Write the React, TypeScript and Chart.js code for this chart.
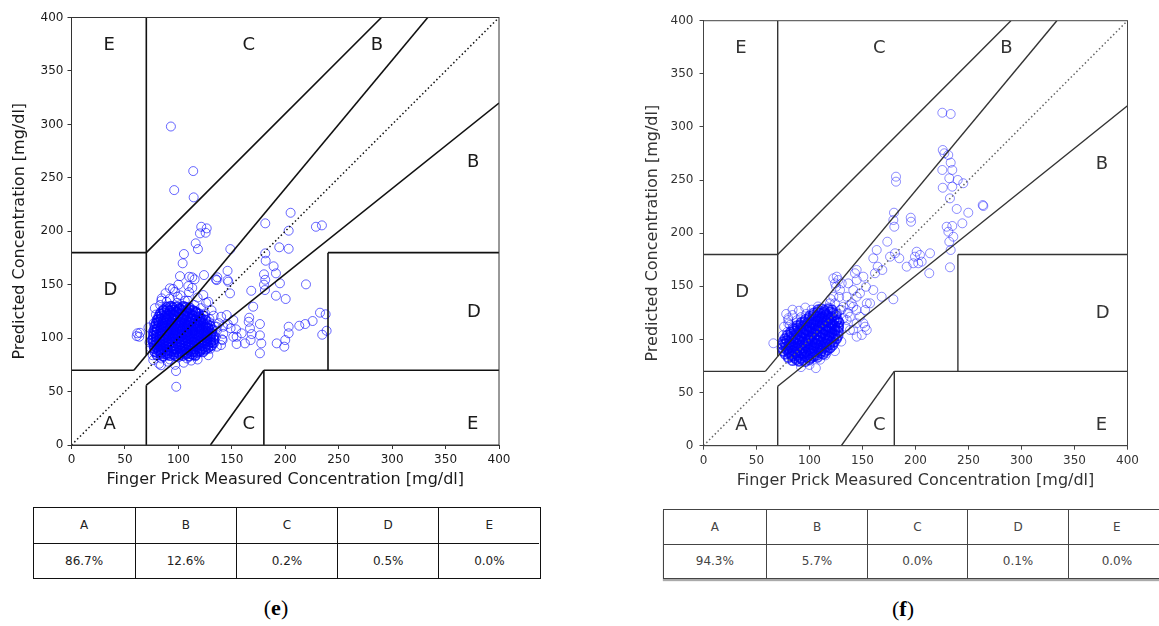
import React, { useEffect, useRef } from 'react';
import { Chart, registerables } from 'chart.js';

Chart.register(...registerables);

// ---------- data ----------
const tickValues = [0, 50, 100, 150, 200, 250, 300, 350, 400];
const zoneNames = ['A', 'B', 'C', 'D', 'E'];
const zonePercentE = ['86.7%', '12.6%', '0.2%', '0.5%', '0.0%'];
const zonePercentF = ['94.3%', '5.7%', '0.0%', '0.1%', '0.0%'];
const xTitle = 'Finger Prick Measured Concentration [mg/dl]';
const yTitle = 'Predicted Concentration [mg/dl]';

// Clarke error grid boundaries [x1, y1, x2, y2] in mg/dl
const gridSegments: number[][] = [
  [0, 70, 58.33, 70],
  [58.33, 70, 333.33, 400],
  [70, 84, 70, 400],
  [0, 180, 70, 180],
  [70, 180, 290, 400],
  [70, 0, 70, 56],
  [70, 56, 400, 320],
  [180, 0, 180, 70],
  [180, 70, 400, 70],
  [240, 70, 240, 180],
  [240, 180, 400, 180],
  [130, 0, 180, 70],
];
const identityLine: number[][] = [[0, 0], [400, 400]];
const zoneLabels: [string, number, number][] = [
  ['A', 30, 15], ['B', 370, 260], ['B', 280, 370], ['C', 160, 370], ['C', 160, 15],
  ['D', 30, 140], ['D', 370, 120], ['E', 30, 370], ['E', 370, 15],
];

// panel (e) readings
const eCluster: number[][] = [
  [88, 142], [95, 146], [102, 140], [110, 143], [118, 138], [92, 137], [100, 150], [84, 135], [106, 135], [113, 147],
  [83, 131], [89, 134], [94, 130], [99, 133], [104, 129], [109, 135], [115, 131], [121, 128], [126, 133], [86, 127], [131, 126],
  [79, 122], [84, 125], [88, 121], [92, 126], [96, 122], [100, 127], [104, 121], [108, 125], [112, 120], [116, 124], [120, 121], [125, 123], [129, 118], [81, 118], [133, 121],
  [77, 114], [81, 116], [85, 112], [89, 117], [93, 113], [97, 118], [101, 114], [105, 117], [109, 112], [113, 116], [117, 113], [121, 117], [125, 112], [129, 115], [134, 111], [138, 114],
  [76, 106], [80, 109], [84, 104], [88, 110], [92, 105], [96, 109], [100, 104], [104, 110], [108, 105], [112, 109], [116, 104], [120, 108], [124, 105], [128, 110], [132, 104], [136, 107],
  [75, 98], [79, 101], [83, 97], [87, 102], [91, 96], [95, 100], [99, 97], [103, 102], [107, 96], [111, 101], [115, 97], [119, 102], [123, 96], [127, 100], [131, 97], [135, 101],
  [74, 91], [78, 94], [82, 89], [86, 93], [90, 88], [94, 92], [98, 89], [102, 94], [106, 90], [110, 93], [114, 88], [118, 92], [122, 89], [126, 94], [130, 90],
  [76, 84], [80, 86], [84, 81], [88, 85], [92, 80], [96, 84], [100, 82], [104, 86], [108, 81], [112, 85], [116, 83], [120, 87],
  [82, 76], [90, 78], [97, 75], [105, 77], [112, 79],
  [92.1, 146.6], [96.8, 143.4], [99.3, 138.7], [84.4, 137.2], [78, 128], [72, 110], [73, 96], [140, 120], [142, 104], [136, 92], [128, 84], [118, 80],
];
const eCore: number[][] = [
  [80, 84], [83.5, 85], [86, 83], [89.5, 84.5], [92, 83.5], [95.5, 85], [98, 83], [101.5, 84.5], [104, 83.5], [107.5, 85], [110, 83], [113.5, 84.5], [116, 84],
  [78, 87], [81.5, 88], [84, 86.5], [87.5, 87.5], [90, 86], [93.5, 88], [96, 87], [99.5, 86.5], [102, 88], [105.5, 87], [108, 86], [111.5, 88], [114, 87], [117.5, 86.5], [120, 88], [123, 87],
  [77.5, 90], [80, 91], [83.5, 89.5], [86, 90.5], [89.5, 89], [92, 91], [95.5, 90], [98, 89.5], [101.5, 91], [104, 90], [107.5, 89], [110, 91], [113.5, 90], [116, 89.5], [119.5, 91], [122, 90], [125.5, 89.5], [128, 91],
  [77, 93], [79.5, 94], [83, 92.5], [85.5, 93.5], [89, 92], [91.5, 94], [95, 93], [97.5, 92.5], [101, 94], [103.5, 93], [107, 92], [109.5, 94], [113, 93], [115.5, 92.5], [119, 94], [121.5, 93], [125, 92], [127.5, 94], [131, 93],
  [76.5, 96], [79, 97], [82.5, 95.5], [85, 96.5], [88.5, 95], [91, 97], [94.5, 96], [97, 95.5], [100.5, 97], [103, 96], [106.5, 95], [109, 97], [112.5, 96], [115, 95.5], [118.5, 97], [121, 96], [124.5, 95], [127, 97], [130.5, 96], [133, 95.5],
  [76, 99], [79.5, 100], [82, 98.5], [85.5, 99.5], [88, 98], [91.5, 100], [94, 99], [97.5, 98.5], [100, 100], [103.5, 99], [106, 98], [109.5, 100], [112, 99], [115.5, 98.5], [118, 100], [121.5, 99], [124, 98], [127.5, 100], [130, 99], [133.5, 98.5],
  [76.5, 102], [79, 103], [82.5, 101.5], [85, 102.5], [88.5, 101], [91, 103], [94.5, 102], [97, 101.5], [100.5, 103], [103, 102], [106.5, 101], [109, 103], [112.5, 102], [115, 101.5], [118.5, 103], [121, 102], [124.5, 101], [127, 103], [130.5, 102], [133, 101.5],
  [77, 105], [79.5, 106], [83, 104.5], [85.5, 105.5], [89, 104], [91.5, 106], [95, 105], [97.5, 104.5], [101, 106], [103.5, 105], [107, 104], [109.5, 106], [113, 105], [115.5, 104.5], [119, 106], [121.5, 105], [125, 104], [127.5, 106], [131, 105],
  [77.5, 108], [80, 109], [83.5, 107.5], [86, 108.5], [89.5, 107], [92, 109], [95.5, 108], [98, 107.5], [101.5, 109], [104, 108], [107.5, 107], [110, 109], [113.5, 108], [116, 107.5], [119.5, 109], [122, 108], [125.5, 107], [128, 109], [131.5, 108],
  [78, 111], [81.5, 112], [84, 110.5], [87.5, 111.5], [90, 110], [93.5, 112], [96, 111], [99.5, 110.5], [102, 112], [105.5, 111], [108, 110], [111.5, 112], [114, 111], [117.5, 110.5], [120, 112], [123.5, 111], [126, 110], [129.5, 112],
  [79, 114], [81.5, 115], [85, 113.5], [87.5, 114.5], [91, 113], [93.5, 115], [97, 114], [99.5, 113.5], [103, 115], [105.5, 114], [109, 113], [111.5, 115], [115, 114], [117.5, 113.5], [121, 115], [123.5, 114], [127, 113],
  [80, 117], [83.5, 118], [86, 116.5], [89.5, 117.5], [92, 116], [95.5, 118], [98, 117], [101.5, 116.5], [104, 118], [107.5, 117], [110, 116], [113.5, 118], [116, 117], [119.5, 116.5], [122, 118], [125.5, 117],
  [81.5, 120], [84, 121], [87.5, 119.5], [90, 120.5], [93.5, 119], [96, 121], [99.5, 120], [102, 119.5], [105.5, 121], [108, 120], [111.5, 119], [114, 121], [117.5, 120], [120, 119.5], [123.5, 121],
  [83, 123], [86.5, 124], [89, 122.5], [92.5, 123.5], [95, 122], [98.5, 124], [101, 123], [104.5, 122.5], [107, 124], [110.5, 123], [113, 122], [116.5, 124], [119, 123],
  [86, 126], [89.5, 127], [92, 125.5], [95.5, 126.5], [98, 125], [101.5, 127], [104, 126], [107.5, 125.5], [110, 127], [113.5, 126], [116, 125],
  [89, 129], [92.5, 130], [95, 128.5], [98.5, 129.5], [101, 128], [104.5, 130], [107, 129], [110.5, 128.5],
];
const eOutliers: number[][] = [
  [93, 298], [113.9, 256.3], [96.1, 238.5], [114.3, 231.7],
  [121.4, 204.2], [126.5, 202.7], [125.5, 198.6], [120.2, 198], [116.2, 188.7], [118.3, 183.3], [105.2, 178.7], [104, 170], [148.6, 183.3],
  [101.5, 158], [110.2, 157.4], [113, 156.9], [115.2, 155], [109.3, 148.7], [124, 159], [135.2, 155], [136.4, 156.9],
  [146, 163], [146, 154.3], [148.3, 141.9], [168.2, 144.3], [170, 129.4], [181.3, 207.4], [205, 217.3], [203.2, 200.5],
  [194.4, 185], [203.2, 183.6], [181.3, 179.3], [181.7, 172.4], [189.1, 167.2], [180.1, 159.7], [181.3, 154.6], [180.1, 150], [181, 145],
  [191.3, 160.6], [195, 151.3], [191.3, 139.7], [200.4, 136.6], [219.4, 150.3], [228.7, 204.2], [234.3, 205.5],
  [232.5, 123.8], [237.8, 122.3], [238.7, 106.9], [234.6, 103.2], [225.6, 116], [218.7, 113.2], [213.1, 111.6], [203.2, 110.7], [203.2, 104.5],
  [200, 98.2], [199.1, 92], [192, 95.1], [176.3, 113.2], [176.3, 102.6], [177.6, 95.1], [176.3, 85.8], [166.3, 119.1], [165.8, 115.3],
  [167, 109.2], [168.6, 103.8], [167.6, 98.2], [159.2, 104.5], [153.9, 108.2], [154.5, 101.3], [154.5, 94.5], [162.3, 95.1], [146.1, 113.2],
  [148.9, 109.2], [151.4, 101.3], [142, 110.7], [141.4, 98.2], [139.9, 93.5],
  [61.6, 104.5], [64.1, 105], [61, 101.9], [63.4, 101.3], [97.8, 69.2], [98, 54.5], [83.7, 74.6], [76.5, 79.5],
  [135.8, 154.3], [146.7, 152.8], [123.3, 140.3], [128, 134], [145.2, 121.6], [151.4, 116.9], [135.8, 110.7], [140.8, 98.9], [129.6, 101.3],
];

// panel (f) readings
const fCluster: number[][] = [
  [80, 120], [84, 123], [88, 118], [92, 121], [97, 124], [101, 119], [106, 122], [110, 125], [113, 119],
  [76, 112], [80, 115], [84, 111], [88, 116], [92, 112], [96, 115], [100, 110], [104, 116], [108, 111], [112, 114], [116, 110], [120, 115], [124, 112],
  [75, 104], [79, 107], [83, 103], [87, 108], [91, 104], [95, 107], [99, 102], [103, 106], [107, 103], [111, 108], [115, 104], [119, 107], [123, 103], [127, 108],
  [74, 96], [78, 99], [82, 95], [86, 100], [90, 94], [94, 98], [98, 95], [102, 100], [106, 96], [110, 99], [114, 95], [118, 100], [122, 97], [126, 101], [130, 98],
  [76, 88], [80, 91], [84, 87], [88, 92], [92, 86], [96, 90], [100, 87], [104, 92], [108, 88], [112, 91], [116, 87], [120, 92], [124, 89],
  [80, 82], [85, 84], [90, 79], [95, 83], [100, 80], [105, 84], [110, 81], [115, 85],
  [92, 74], [100, 76], [106, 73],
  [128, 116], [132, 120], [126, 124], [130, 128], [122, 128], [118, 130], [124, 134], [134, 112], [136, 125], [138, 132], [120, 138], [128, 140],
  [65.9, 96.4], [80, 118.3], [81.6, 113.7], [78, 124], [84, 128], [90, 127], [96, 130], [102, 128], [108, 131], [114, 126],
];
const fCore: number[][] = [
  [84, 80], [87.5, 81], [90, 79.5], [93.5, 80.5], [96, 79], [99.5, 81],
  [80, 83], [83.5, 84], [86, 82.5], [89.5, 83.5], [92, 82], [95.5, 84], [98, 83], [101.5, 82.5], [104, 84], [107.5, 83],
  [77, 86], [80.5, 87], [83, 85.5], [86.5, 86.5], [89, 85], [92.5, 87], [95, 86], [98.5, 85.5], [101, 87], [104.5, 86], [107, 85], [110.5, 87], [113, 86],
  [75, 89], [78.5, 90], [81, 88.5], [84.5, 89.5], [87, 88], [90.5, 90], [93, 89], [96.5, 88.5], [99, 90], [102.5, 89], [105, 88], [108.5, 90], [111, 89], [114.5, 88.5], [117, 90],
  [74, 92], [77.5, 93], [80, 91.5], [83.5, 92.5], [86, 91], [89.5, 93], [92, 92], [95.5, 91.5], [98, 93], [101.5, 92], [104, 91], [107.5, 93], [110, 92], [113.5, 91.5], [116, 93], [119.5, 92],
  [74.5, 95], [77, 96], [80.5, 94.5], [83, 95.5], [86.5, 94], [89, 96], [92.5, 95], [95, 94.5], [98.5, 96], [101, 95], [104.5, 94], [107, 96], [110.5, 95], [113, 94.5], [116.5, 96], [119, 95], [122, 94.5],
  [75, 98], [78.5, 99], [81, 97.5], [84.5, 98.5], [87, 97], [90.5, 99], [93, 98], [96.5, 97.5], [99, 99], [102.5, 98], [105, 97], [108.5, 99], [111, 98], [114.5, 97.5], [117, 99], [120.5, 98], [123.5, 97.5],
  [77, 101], [80.5, 102], [83, 100.5], [86.5, 101.5], [89, 100], [92.5, 102], [95, 101], [98.5, 100.5], [101, 102], [104.5, 101], [107, 100], [110.5, 102], [113, 101], [116.5, 100.5], [119, 102], [122.5, 101], [125.5, 100.5],
  [79, 104], [82.5, 105], [85, 103.5], [88.5, 104.5], [91, 103], [94.5, 105], [97, 104], [100.5, 103.5], [103, 105], [106.5, 104], [109, 103], [112.5, 105], [115, 104], [118.5, 103.5], [121, 105], [124.5, 104], [127, 103.5],
  [82, 107], [85.5, 108], [88, 106.5], [91.5, 107.5], [94, 106], [97.5, 108], [100, 107], [103.5, 106.5], [106, 108], [109.5, 107], [112, 106], [115.5, 108], [118, 107], [121.5, 106.5], [124, 108], [127.5, 107],
  [85, 110], [88.5, 111], [91, 109.5], [94.5, 110.5], [97, 109], [100.5, 111], [103, 110], [106.5, 109.5], [109, 111], [112.5, 110], [115, 109], [118.5, 111], [121, 110], [124.5, 109.5], [127.5, 111],
  [88, 113], [91.5, 114], [94, 112.5], [97.5, 113.5], [100, 112], [103.5, 114], [106, 113], [109.5, 112.5], [112, 114], [115.5, 113], [118, 112], [121.5, 114], [124, 113], [127.5, 112.5],
  [92, 116], [95.5, 117], [98, 115.5], [101.5, 116.5], [104, 115], [107.5, 117], [110, 116], [113.5, 115.5], [116, 117], [119.5, 116], [122, 115], [125.5, 117], [128, 116],
  [96, 119], [99.5, 120], [102, 118.5], [105.5, 119.5], [108, 118], [111.5, 120], [114, 119], [117.5, 118.5], [120, 120], [123.5, 119], [126.5, 118.5],
  [100, 122], [103.5, 123], [106, 121.5], [109.5, 122.5], [112, 121], [115.5, 123], [118, 122], [121.5, 121.5], [125, 123],
  [104, 125], [107.5, 126], [110, 124.5], [113.5, 125.5], [116, 124], [119.5, 126], [122.5, 125],
  [108, 128], [111.5, 129], [114, 127.5], [117.5, 128.5], [121, 128],
];
const fOutliers: number[][] = [
  [225.3, 313.4], [233.2, 312.2],
  [225.7, 278.3], [227.2, 275.2], [230.9, 273.6], [233.2, 266.4], [225.3, 259.5], [234.7, 259.5], [231.9, 251.7], [239.8, 250.1],
  [225.7, 242.8], [234.7, 243.8], [245.1, 247], [232.5, 232.8],
  [181.6, 253.2], [181.6, 248.5], [179.7, 219.3], [179.1, 212.4], [195.5, 214.6], [195.8, 210.8], [180, 206.1],
  [229.4, 206.1], [234.7, 206.8], [231, 201.4], [235.7, 196.7], [244.2, 209.3], [249.8, 219.3], [238.9, 222.8], [264, 225.6], [263.4, 226.5],
  [231.9, 192], [233.2, 184.2], [232.5, 167.9],
  [173.4, 192], [180.7, 181.1], [176, 177.9], [184.7, 176.4], [163.4, 184.2], [164.3, 168.5], [168.7, 165.4], [160.2, 176.4],
  [201.1, 182.6], [204.2, 179.5], [202.6, 171.7], [205.8, 173.2], [213.7, 181.1], [213, 162.3], [191.7, 168.5], [197.9, 171.7], [199.5, 177.9],
  [161.8, 162.3], [150.8, 159.1], [144.5, 155.9], [153.3, 149.6], [160.2, 146.5], [168.1, 140.2], [179.1, 137.8], [154, 134], [144.5, 140.2],
  [141.3, 146.5], [136.6, 152.8], [144.5, 165.4],
  [125.7, 159.1], [124.1, 152.8], [128.8, 146.5], [135.1, 140.2], [139.8, 134], [144.5, 127.7], [147.6, 121.4], [150.8, 115.2], [154, 108.9],
  [149.3, 104.2], [144.5, 115.2], [138.2, 121.4], [131.9, 130.8], [122.5, 140.2], [119.3, 134], [125.7, 124.6], [135.1, 118.3], [141.3, 108.9],
  [122.5, 157.5], [127.2, 155.9], [125, 149.6], [130.4, 152.8], [142.9, 162.3], [147.6, 143.4], [157.1, 134], [152.4, 127.7], [141.3, 130.8],
  [128.8, 127.7], [152.4, 112], [138.2, 108.9], [144.5, 102.6],
];

// ---------- drawing ----------
const FONT = '"DejaVu Sans", sans-serif';

const clarkeDecor = {
  id: 'clarkeDecor',
  afterDatasetsDraw(chart: any, _args: any, opts: any) {
    const { ctx, chartArea, scales } = chart;
    ctx.save();
    ctx.strokeStyle = opts.frameColor;
    ctx.lineWidth = 1;
    ctx.strokeRect(chartArea.left, chartArea.top, chartArea.right - chartArea.left, chartArea.bottom - chartArea.top);
    ctx.fillStyle = opts.labelColor;
    ctx.font = `18px ${FONT}`;
    ctx.textAlign = 'left';
    ctx.textBaseline = 'alphabetic';
    for (const [t, x, y] of zoneLabels) {
      ctx.fillText(t, scales.x.getPixelForValue(x), scales.y.getPixelForValue(y));
    }
    ctx.restore();
  },
};

type PanelProps = {
  core: number[][];
  points: number[][];
  left: number;
  top: number;
  width: number;
  height: number;
  yAxisW: number;
  xAxisH: number;
  padTop: number;
  padRight: number;
  yTitlePad: number;
  xTitlePad: number;
  yTickPad: number;
  pointColor: string;
  coreColor: string;
  lineColor: string;
  lineWidth: number;
  diagColor: string;
  frameColor: string;
  textColor: string;
};

function ClarkePanel(p: PanelProps) {
  const ref = useRef<HTMLCanvasElement | null>(null);
  useEffect(() => {
    if (!ref.current) return;
    const pointStyle = (color: string, bw: number) => ({
      pointRadius: 4.5,
      pointHoverRadius: 4.5,
      pointBorderWidth: bw,
      pointBackgroundColor: 'rgba(0,0,0,0)',
      pointBorderColor: color,
    });
    // lower index is drawn last (on top): boundary lines above the points, as in the source
    const datasets: any[] = [
      ...gridSegments.map((s) => ({
        data: [{ x: s[0], y: s[1] }, { x: s[2], y: s[3] }],
        showLine: true,
        pointRadius: 0,
        borderColor: p.lineColor,
        borderWidth: p.lineWidth,
      })),
      {
        data: identityLine.map(([x, y]) => ({ x, y })),
        showLine: true,
        pointRadius: 0,
        borderColor: p.diagColor,
        borderWidth: 1.5,
        borderDash: [1.5, 2.5],
      },
      { data: p.points.map(([x, y]) => ({ x, y })), ...pointStyle(p.pointColor, 1) },
      { data: p.core.map(([x, y]) => ({ x, y })), ...pointStyle(p.coreColor, 1.7) },
    ];
    const axisCommon = (title: string, pad: any, tickPad: number) => ({
      type: 'linear',
      min: 0,
      max: 400,
      afterBuildTicks: (scale: any) => {
        scale.ticks = tickValues.map((v) => ({ value: v }));
      },
      ticks: { color: p.textColor, font: { family: FONT, size: 12 }, padding: tickPad, maxRotation: 0, autoSkip: false },
      grid: { drawOnChartArea: false, drawTicks: true, tickLength: 4, color: p.frameColor, lineWidth: 1 },
      border: { display: true, color: p.frameColor, width: 1 },
      title: { display: true, text: title, color: p.textColor, font: { family: FONT, size: 16 }, padding: pad },
    });
    const chart = new Chart(ref.current, {
      type: 'scatter',
      data: { datasets },
      plugins: [clarkeDecor],
      options: {
        animation: false,
        responsive: false,
        devicePixelRatio: 1,
        events: [],
        layout: { padding: { left: 0, top: p.padTop, right: p.padRight, bottom: 0 } },
        plugins: {
          legend: { display: false },
          tooltip: { enabled: false },
          clarkeDecor: { frameColor: p.frameColor, labelColor: p.textColor },
        } as any,
        scales: {
          x: {
            ...axisCommon(xTitle, { top: 0, bottom: p.xTitlePad }, 4),
            afterFit: (s: any) => { s.height = p.xAxisH; },
          },
          y: {
            ...axisCommon(yTitle, { top: p.yTitlePad, bottom: 0 }, p.yTickPad),
            afterFit: (s: any) => { s.width = p.yAxisW; },
          },
        } as any,
      },
    });
    return () => chart.destroy();
  }, []);
  return (
    <canvas
      ref={ref}
      width={p.width}
      height={p.height}
      style={{ position: 'absolute', left: p.left, top: p.top, width: p.width, height: p.height }}
    />
  );
}

type TableProps = {
  left: number;
  top: number;
  colW: number[];
  rowH: number;
  values: string[];
  lineColor: string;
  lineW: number;
  textColor: string;
  shadow: string;
};

function ZoneTable(t: TableProps) {
  const total = t.colW.reduce((a, b) => a + b, 0);
  const cells: any[] = [];
  let x = 0;
  t.colW.forEach((w, i) => {
    [zoneNames[i], t.values[i]].forEach((txt, r) => {
      cells.push(
        <div
          key={`${i}-${r}`}
          style={{
            position: 'absolute',
            left: x,
            top: r * t.rowH,
            width: w,
            height: t.rowH,
            boxSizing: 'border-box',
            borderLeft: i > 0 ? `${t.lineW}px solid ${t.lineColor}` : 'none',
            borderTop: r > 0 ? `${t.lineW}px solid ${t.lineColor}` : 'none',
            display: 'flex',
            alignItems: 'center',
            justifyContent: 'center',
            font: `12px ${FONT}`,
            color: t.textColor,
          }}
        >
          {txt}
        </div>
      );
    });
    x += w;
  });
  return (
    <div
      style={{
        position: 'absolute',
        left: t.left,
        top: t.top,
        width: total,
        height: 2 * t.rowH,
        border: `${t.lineW}px solid ${t.lineColor}`,
        boxShadow: t.shadow,
      }}
    >
      {cells}
    </div>
  );
}

function Caption({ letter, cx, cy }: { letter: string; cx: number; cy: number }) {
  return (
    <div
      style={{
        position: 'absolute',
        left: cx - 50,
        top: cy - 13,
        width: 100,
        height: 26,
        lineHeight: '26px',
        textAlign: 'center',
        font: '22px "Liberation Serif", "Times New Roman", serif',
        color: '#000',
      }}
    >
      (<b>{letter}</b>)
    </div>
  );
}

export default function App() {
  return (
    <div style={{ position: 'absolute', left: 0, top: 0, width: 1159, height: 626, background: '#fff', overflow: 'hidden' }}>
      <ClarkePanel
        core={eCore}
        points={[...eCluster, ...eOutliers]}
        left={0}
        top={0}
        width={520}
        height={500}
        yAxisW={71.5}
        xAxisH={55}
        padTop={17.5}
        padRight={21}
        yTitlePad={10.4}
        xTitlePad={10.4}
        yTickPad={4}
        pointColor="rgba(0,0,255,0.6)"
        coreColor="rgba(0,0,255,0.75)"
        lineColor="#111"
        lineWidth={1.6}
        diagColor="#111"
        frameColor="#333"
        textColor="#1a1a1a"
      />
      <ClarkePanel
        core={fCore}
        points={[...fCluster, ...fOutliers]}
        left={630}
        top={0}
        width={529}
        height={500}
        yAxisW={73.5}
        xAxisH={54.3}
        padTop={20.7}
        padRight={31.5}
        yTitlePad={13.7}
        xTitlePad={9.4}
        yTickPad={6}
        pointColor="rgba(0,0,255,0.45)"
        coreColor="rgba(0,0,255,0.7)"
        lineColor="#333"
        lineWidth={1.4}
        diagColor="#666"
        frameColor="#444"
        textColor="#333"
      />
      <ZoneTable
        left={32.5}
        top={506.5}
        colW={[101.2, 101.2, 101.2, 101.2, 101.2]}
        rowH={35}
        values={zonePercentE}
        lineColor="#111"
        lineW={1.5}
        textColor="#222"
        shadow="none"
      />
      <ZoneTable
        left={663}
        top={508.5}
        colW={[101.7, 101.7, 99.3, 101.7, 96]}
        rowH={34}
        values={zonePercentF}
        lineColor="#444"
        lineW={1.5}
        textColor="#444"
        shadow="0 2px 1px #aaa"
      />
      <Caption letter="e" cx={276} cy={608} />
      <Caption letter="f" cx={903} cy={609} />
    </div>
  );
}
